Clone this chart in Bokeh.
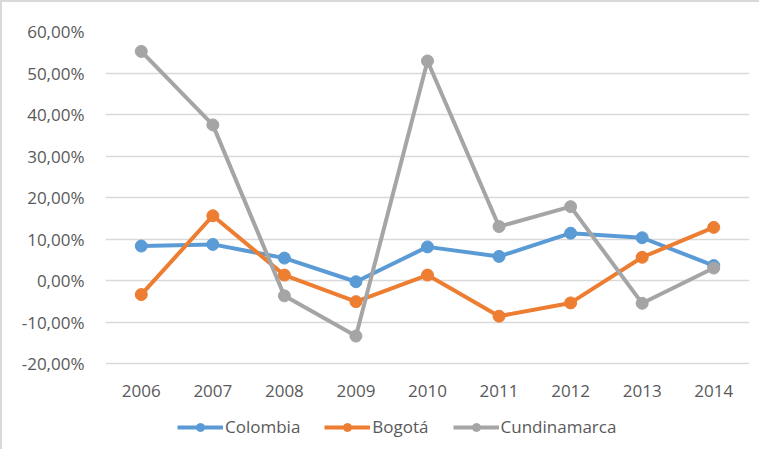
from bokeh.plotting import figure
from bokeh.models import (FactorRange, Range1d, FixedTicker, CustomJSTickFormatter,
                          Legend, LegendItem)
from bokeh.embed import file_html
from bokeh.resources import INLINE

years = ["2006", "2007", "2008", "2009", "2010", "2011", "2012", "2013", "2014"]
colombia = [0.083, 0.087, 0.054, -0.003, 0.081, 0.058, 0.114, 0.103, 0.036]
bogota = [-0.034, 0.156, 0.013, -0.051, 0.013, -0.086, -0.054, 0.056, 0.128]
cundinamarca = [0.552, 0.375, -0.037, -0.134, 0.529, 0.130, 0.178, -0.055, 0.030]
y_ticks = [-0.2, -0.1, 0.0, 0.1, 0.2, 0.3, 0.4, 0.5, 0.6]

series = [("Colombia", colombia, "#5B9BD5"),
          ("Bogotá", bogota, "#ED7D31"),
          ("Cundinamarca", cundinamarca, "#A5A5A5")]

FONT = "Open Sans"
TXT = "#595959"

W, H = 759, 449
TOP, LEFT, RIGHT = 29, 103, 12
GRID_SPAN = 332  # pixel span from -20% to 60%
frame_h = H - TOP
y_lo = y_ticks[-1] - (y_ticks[-1] - y_ticks[0]) * frame_h / GRID_SPAN

p = figure(width=W, height=H, x_range=FactorRange(*years),
           y_range=Range1d(y_lo, y_ticks[-1]), output_backend="svg",
           toolbar_location=None, min_border_left=LEFT, min_border_right=RIGHT,
           min_border_top=TOP, min_border_bottom=0)
p.styles = {"border-left": "2px solid #d9d9d9", "border-top": "2px solid #d9d9d9"}
p.outline_line_color = None
p.xgrid.grid_line_color = None
p.ygrid.grid_line_color = "#d9d9d9"
p.ygrid.grid_line_width = 1.5

p.yaxis.ticker = FixedTicker(ticks=y_ticks)
p.yaxis.formatter = CustomJSTickFormatter(
    code="return (tick*100).toFixed(2).replace('.', ',') + '%';")
p.xaxis.fixed_location = y_ticks[0]
for ax in (p.xaxis[0], p.yaxis[0]):
    ax.axis_line_color = None
    ax.major_tick_line_color = None
    ax.minor_tick_line_color = None
    ax.major_label_text_font = FONT
    ax.major_label_text_font_size = "17px"
    ax.major_label_text_color = TXT
p.yaxis.major_label_standoff = 15
p.xaxis.major_label_standoff = 15

items = []
for name, vals, col in series:
    r1 = p.line(years, vals, line_color=col, line_width=4)
    r2 = p.scatter(years, vals, size=12, fill_color=col, line_color=col)
    items.append(LegendItem(label=name, renderers=[r1, r2]))

legend = Legend(items=items, orientation="horizontal", location=(72, 13),
                glyph_width=46, glyph_height=20, label_standoff=2, spacing=24,
                padding=4, margin=0, border_line_color=None,
                background_fill_alpha=0,
                label_text_font=FONT, label_text_font_size="17px",
                label_text_color=TXT)
p.add_layout(legend, "center")

open("out.html", "w").write(file_html(p, INLINE))
